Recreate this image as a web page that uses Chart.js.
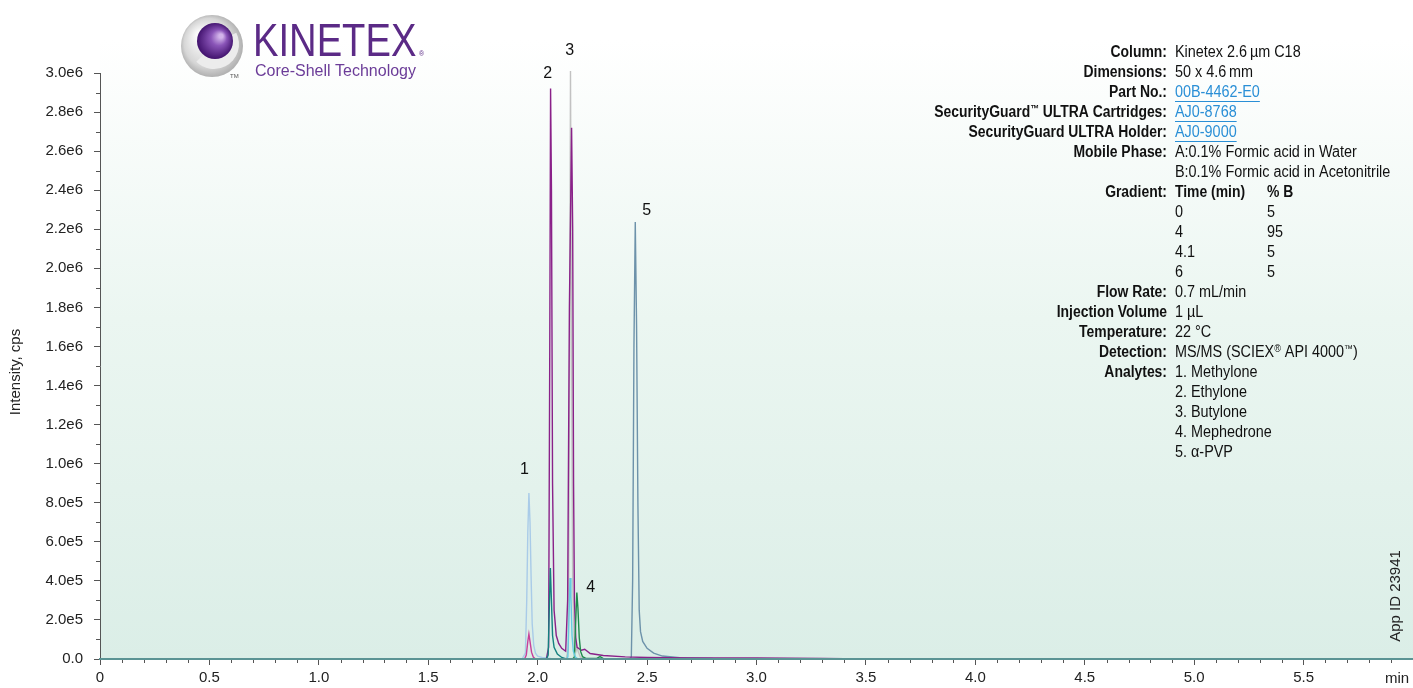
<!DOCTYPE html>
<html><head><meta charset="utf-8">
<script src="https://cdn.jsdelivr.net/npm/chart.js@4.4.1/dist/chart.umd.min.js"></script>
<style>html,body{margin:0;padding:0;background:#fff;}canvas{display:block;}</style>
</head><body>
<canvas id="c" width="1413" height="688" style="width:1413px;height:688px"></canvas>
<script>
// ---------- DATA (time in min, intensity in cps) ----------
const methyloneT = [0, 1.5, 1.93, 1.944, 1.95, 1.955, 1.96, 1.965, 1.97, 1.975, 1.982, 1.99, 2.0, 2.02, 2.06, 2.15, 6];
const methyloneV = [0, 0, 2000, 30000, 300000, 650000, 850000, 700000, 420000, 180000, 70000, 30000, 15000, 8000, 3000, 0, 0];

const magentaT = [0, 1.94, 1.948, 1.955, 1.96, 1.965, 1.972, 1.98, 1.99, 6];
const magentaV = [0, 0, 20000, 90000, 128000, 90000, 35000, 10000, 0, 0];

const purpleT = [0, 1.9, 2.04, 2.05, 2.055, 2.059, 2.063, 2.068, 2.075, 2.085, 2.096, 2.11, 2.128, 2.137, 2.145, 2.155, 2.16, 2.164, 2.168, 2.174, 2.18, 2.2, 2.215, 2.24, 2.3, 2.4, 2.5, 2.7, 3.0, 3.3, 3.5, 6];
const purpleV = [0, 0, 2000, 60000, 1500000, 2920000, 2400000, 900000, 250000, 120000, 80000, 55000, 40000, 300000, 1800000, 2720000, 2200000, 900000, 300000, 110000, 60000, 45000, 50000, 28000, 18000, 11000, 8000, 6000, 5000, 3000, 0, 0];

const butyloneT = [0, 2.13, 2.14, 2.146, 2.150, 2.154, 2.16, 2.168, 2.175, 2.18, 2.185, 2.195, 2.21, 6];
const butyloneV = [0, 0, 50000, 1500000, 3010000, 1800000, 400000, 60000, 40000, 60000, 40000, 10000, 0, 0];

const tealT = [0, 2.04, 2.048, 2.054, 2.058, 2.062, 2.068, 2.075, 2.09, 2.11, 2.13, 6];
const tealV = [0, 0, 20000, 300000, 466000, 330000, 120000, 60000, 25000, 8000, 0, 0];

const cyanT = [0, 2.13, 2.138, 2.144, 2.148, 2.152, 2.157, 2.163, 2.172, 2.185, 6];
const cyanV = [0, 0, 10000, 250000, 415000, 320000, 120000, 40000, 10000, 0, 0];

const mephedroneT = [0, 2.16, 2.168, 2.174, 2.179, 2.184, 2.19, 2.196, 2.205, 2.22, 2.27, 2.285, 2.3, 6];
const mephedroneV = [0, 0, 10000, 200000, 340000, 260000, 110000, 40000, 12000, 3000, 3000, 12000, 2000, 0];

const pvpT = [0, 2.42, 2.428, 2.434, 2.44, 2.446, 2.452, 2.458, 2.464, 2.47, 2.48, 2.5, 2.53, 2.57, 2.65, 2.8, 6];
const pvpV = [0, 0, 10000, 400000, 1600000, 2237000, 1700000, 800000, 250000, 140000, 90000, 55000, 30000, 15000, 7000, 3000, 0];

const peakLabels = ['1', '2', '3', '4', '5'];
const peakLabelT = [1.94, 2.046, 2.146, 2.242, 2.498];
const peakLabelV = [968000, 2995000, 3113000, 364000, 2294000];

const xTicks = [0, 0.5, 1.0, 1.5, 2.0, 2.5, 3.0, 3.5, 4.0, 4.5, 5.0, 5.5];

const infoLabels = ['Column:', 'Dimensions:', 'Part No.:', 'SecurityGuard\u2122 ULTRA Cartridges:', 'SecurityGuard ULTRA Holder:', 'Mobile Phase:', '', 'Gradient:', '', '', '', '', 'Flow Rate:', 'Injection Volume', 'Temperature:', 'Detection:', 'Analytes:', '', '', '', ''];
const infoValues = ['Kinetex 2.6\u2009\u00b5m C18', '50 x 4.6\u2009mm', '00B-4462-E0', 'AJ0-8768', 'AJ0-9000', 'A:0.1% Formic acid in Water', 'B:0.1% Formic acid in Acetonitrile', 'Time (min)', '0', '4', '4.1', '6', '0.7 mL/min', '1 \u00b5L', '22 \u00b0C', 'MS/MS (SCIEX\u00ae API 4000\u2122)', '1. Methylone', '2. Ethylone', '3. Butylone', '4. Mephedrone', '5. \u03b1-PVP'];
const gradientPctB = ['% B', '5', '95', '5', '5'];
const linkRows = [2, 3, 4];

// ---------- helpers ----------
const pts = (t, v) => t.map((x, i) => ({x: x, y: v[i]}));
function ds(t, v, color, order) {
  return {data: pts(t, v), borderColor: color, borderWidth: 1.4, pointRadius: 0, tension: 0, fill: false, clip: false, order: order};
}
function fmtY(v) {
  if (Math.abs(v) < 1) return '0.0';
  const e = Math.floor(Math.log10(v) + 1e-9);
  const m = v / Math.pow(10, e);
  return m.toFixed(1) + 'e' + e;
}
const FONT = '"Liberation Sans", Arial, Helvetica, sans-serif';

const bgPlugin = {
  id: 'bg',
  beforeDraw(chart) {
    const c = chart.ctx, a = chart.chartArea;
    c.save();
    c.fillStyle = '#ffffff';
    c.fillRect(0, 0, chart.width, chart.height);
    const g = c.createLinearGradient(0, 40, 0, a.bottom);
    g.addColorStop(0, '#ffffff');
    g.addColorStop(0.45, '#ebf6f1');
    g.addColorStop(1, '#dbeee7');
    c.fillStyle = g;
    c.fillRect(a.left, 0, a.right - a.left, a.bottom);
    c.restore();
  }
};

// draw text horizontally condensed; ™ and ® rendered as small superscripts
function richText(c, txt, x, y, scale, align, weight) {
  const segs = [];
  let cur = '';
  for (const ch of txt) {
    if (ch === '\u2122' || ch === '\u00ae') { if (cur) segs.push([cur, false]); segs.push([ch, true]); cur = ''; }
    else cur += ch;
  }
  if (cur) segs.push([cur, false]);
  const big = weight + ' 16px ' + FONT, small = weight + ' 10px ' + FONT;
  let total = 0;
  segs.forEach(s => { c.font = s[1] ? small : big; s.push(c.measureText(s[0]).width); total += s[2]; });
  c.save();
  c.translate(x, y);
  c.scale(scale, 1);
  c.textAlign = 'left';
  let px = align === 'right' ? -total : 0;
  segs.forEach(s => {
    c.font = s[1] ? small : big;
    c.fillText(s[0], px, s[1] ? -4 : 0);
    px += s[2];
  });
  c.restore();
  return total * scale;
}

const overlayPlugin = {
  id: 'overlay',
  afterDatasetsDraw(chart) {
    const c = chart.ctx, a = chart.chartArea;
    c.save();
    c.strokeStyle = '#5b9494'; c.lineWidth = 2;
    c.beginPath(); c.moveTo(a.left, a.bottom); c.lineTo(a.right, a.bottom); c.stroke();
    c.restore();
  },
  afterDraw(chart) {
    const c = chart.ctx, xs = chart.scales.x, ys = chart.scales.y, a = chart.chartArea;
    c.save();
    // minor ticks
    c.strokeStyle = '#555'; c.lineWidth = 1;
    for (let i = 1; i < 30; i += 2) {
      const py = Math.round(ys.getPixelForValue(i * 1e5)) + 0.5;
      c.beginPath(); c.moveTo(a.left - 4, py); c.lineTo(a.left, py); c.stroke();
    }
    for (let i = 1; i < 60; i++) {
      if (i % 5 === 0) continue;
      const px = Math.round(xs.getPixelForValue(i / 10)) + 0.5;
      c.beginPath(); c.moveTo(px, a.bottom + 1); c.lineTo(px, a.bottom + 4); c.stroke();
    }
    // axis titles
    c.fillStyle = '#222';
    c.font = '15px ' + FONT;
    c.textBaseline = 'middle';
    c.textAlign = 'center';
    c.fillText('min', 1397, 679);
    c.save(); c.translate(16, 372); c.rotate(-Math.PI / 2); c.fillText('Intensity, cps', 0, 0); c.restore();
    c.save(); c.translate(1396, 596); c.rotate(-Math.PI / 2); c.fillText('App ID 23941', 0, 0); c.restore();
    // peak labels
    c.font = '16px ' + FONT;
    c.fillStyle = '#111';
    peakLabels.forEach((lab, i) => {
      c.fillText(lab, xs.getPixelForValue(peakLabelT[i]), ys.getPixelForValue(peakLabelV[i]));
    });
    // info panel
    infoLabels.forEach((lab, i) => {
      const y = 53 + 20 * i;
      if (lab) {
        c.fillStyle = '#111';
        richText(c, lab, 1167, y, 0.87, 'right', 'bold');
      }
      const val = infoValues[i];
      const isLink = linkRows.includes(i);
      c.fillStyle = isLink ? '#2a8fd6' : '#111';
      const w = richText(c, val, 1175, y, i === 7 ? 0.87 : 0.9, 'left', i === 7 ? 'bold' : 'normal');
      if (isLink) {
        c.strokeStyle = '#2a8fd6'; c.lineWidth = 1;
        c.beginPath(); c.moveTo(1175, y + 8.5); c.lineTo(1175 + w, y + 8.5); c.stroke();
      }
    });
    gradientPctB.forEach((v, k) => {
      const y = 53 + 20 * (7 + k);
      c.fillStyle = '#111';
      richText(c, v, 1267, y, k === 0 ? 0.87 : 0.9, 'left', k === 0 ? 'bold' : 'normal');
    });
    // logo
    let g = c.createRadialGradient(200, 35, 4, 212, 46, 33);
    g.addColorStop(0, '#fafafa'); g.addColorStop(0.7, '#d6d6d6'); g.addColorStop(1, '#a9a9a9');
    c.fillStyle = g;
    c.beginPath(); c.arc(212, 46, 31, 0, Math.PI * 2); c.fill();
    c.fillStyle = '#ececec';
    c.beginPath(); c.moveTo(214, 44); c.arc(214, 44, 25, -Math.PI * 0.15, Math.PI * 0.75); c.closePath(); c.fill();
    g = c.createRadialGradient(221, 36, 2, 215, 41, 19);
    g.addColorStop(0, '#d2b4ea'); g.addColorStop(0.35, '#8a55b8'); g.addColorStop(1, '#3c0d68');
    c.fillStyle = g;
    c.beginPath(); c.arc(215, 41, 18, 0, Math.PI * 2); c.fill();
    c.fillStyle = '#555'; c.font = '6px ' + FONT; c.textAlign = 'left';
    c.fillText('TM', 230, 76);
    c.fillStyle = '#5b2a86';
    c.textBaseline = 'alphabetic';
    c.font = '46px ' + FONT;
    c.save(); c.translate(253, 56); c.scale(0.83, 1); c.fillText('KINETEX', 0, 0); c.restore();
    c.font = '7px ' + FONT;
    c.fillText('\u00ae', 419, 56);
    c.fillStyle = '#6b3c98';
    c.font = '16px ' + FONT;
    c.fillText('Core-Shell Technology', 255, 76);
    c.restore();
  }
};

const datasets = [
  ds(tealT, tealV, '#14807f', 1),
  ds(cyanT, cyanV, '#66cbe0', 2),
  ds(mephedroneT, mephedroneV, '#1f8a4c', 3),
  ds(purpleT, purpleV, '#8a2189', 4),
  ds(magentaT, magentaV, '#c8409a', 5),
  ds(pvpT, pvpV, '#6d92aa', 6),
  ds(methyloneT, methyloneV, '#a9cbe8', 7),
  ds(butyloneT, butyloneV, '#c2c2c2', 8)
];

new Chart(document.getElementById('c'), {
  type: 'line',
  data: {datasets: datasets},
  options: {
    responsive: false, animation: false, events: [],
    layout: {padding: {top: 73, right: 0, left: 0, bottom: 0}},
    plugins: {legend: {display: false}, tooltip: {enabled: false}},
    scales: {
      x: {
        type: 'linear', min: 0, max: 6,
        afterFit(s) { s.height = 29; s.paddingRight = 0; s.paddingLeft = 0; },
        afterBuildTicks(s) { s.ticks = xTicks.map(v => ({value: v})); },
        ticks: {autoSkip: false, maxRotation: 0, padding: 4, color: '#222', font: {size: 15, family: FONT},
          callback: v => v === 0 ? '0' : Number(v).toFixed(1)},
        grid: {drawOnChartArea: false, drawTicks: true, tickLength: 6, tickColor: '#555', color: '#555'},
        border: {color: '#5b9494', width: 2}
      },
      y: {
        min: 0, max: 3e6,
        afterFit(s) { s.width = 100; },
        ticks: {stepSize: 2e5, padding: 11, color: '#222', font: {size: 15, family: FONT}, callback: fmtY},
        grid: {drawOnChartArea: false, drawTicks: true, tickLength: 6, tickColor: '#555', color: '#555'},
        border: {color: '#555', width: 1}
      }
    }
  },
  plugins: [bgPlugin, overlayPlugin]
});
</script>
</body></html>
